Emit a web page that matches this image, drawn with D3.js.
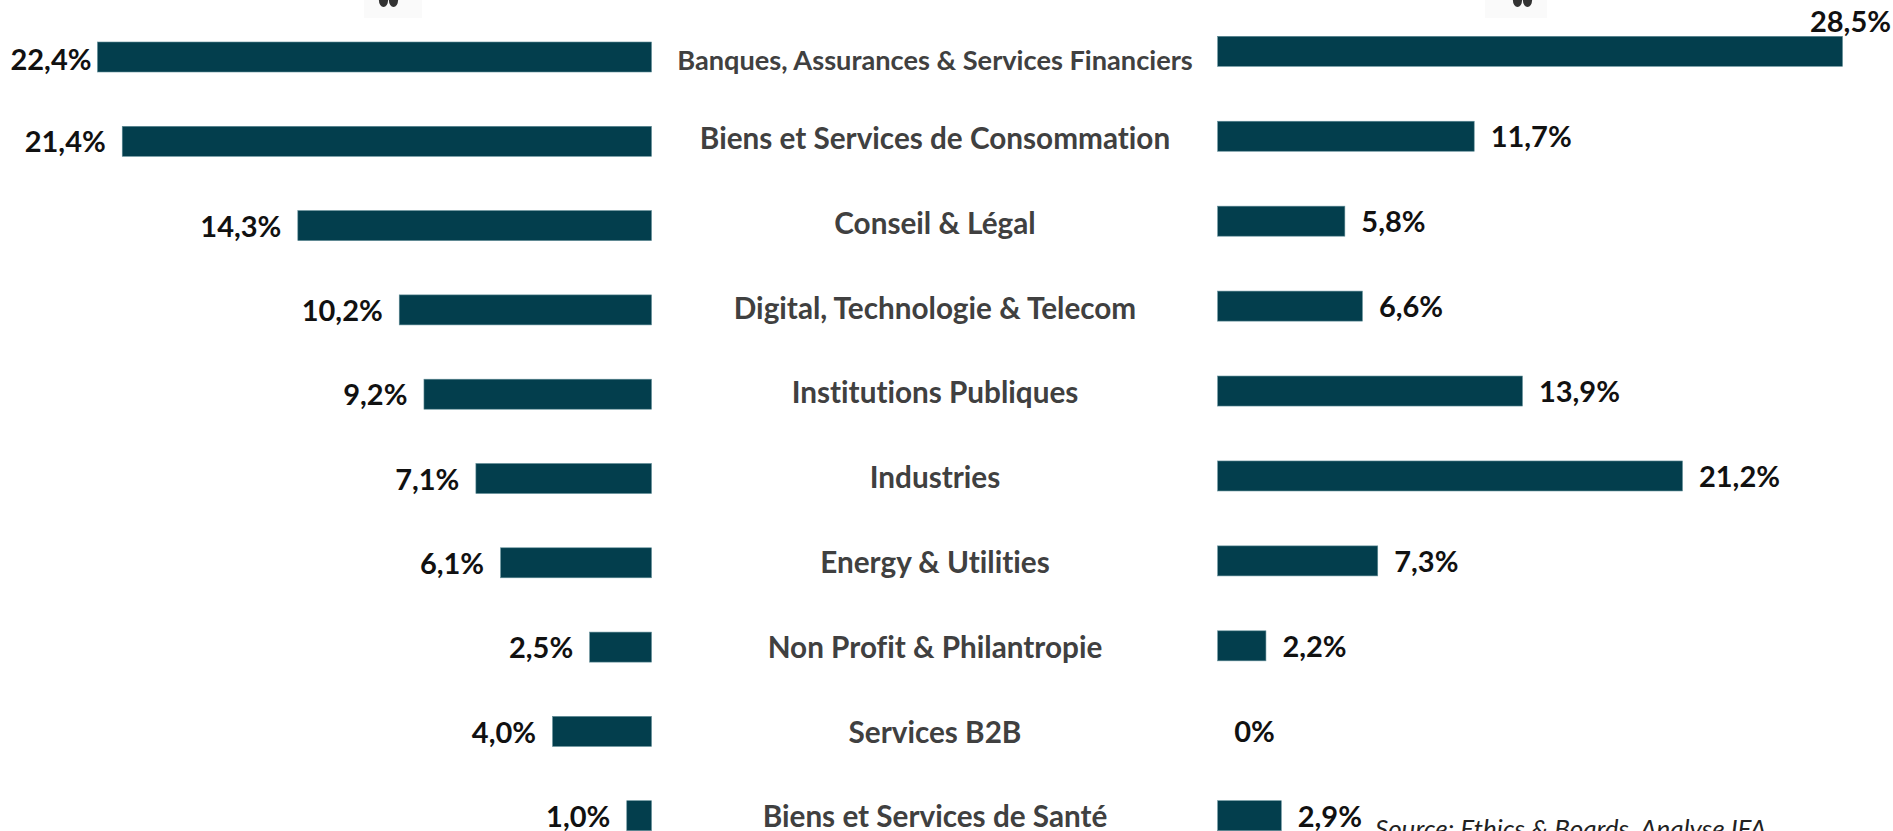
<!DOCTYPE html>
<html><head><meta charset="utf-8">
<script src="https://cdn.jsdelivr.net/npm/d3@7/dist/d3.min.js"></script>
<style>html,body{margin:0;padding:0;background:#fff;overflow:hidden}svg{display:block}text{font-family:Lato,"Open Sans",sans-serif;font-variant-ligatures:none}</style>
</head><body><svg id="c" width="1893" height="831"></svg>
<script>
const categories = ["Banques, Assurances & Services Financiers","Biens et Services de Consommation","Conseil & Légal","Digital, Technologie & Telecom","Institutions Publiques","Industries","Energy & Utilities","Non Profit & Philantropie","Services B2B","Biens et Services de Santé"];
const leftValues = [22.4,21.4,14.3,10.2,9.2,7.1,6.1,2.5,4.0,1.0];
const rightValues = [28.5,11.7,5.8,6.6,13.9,21.2,7.3,2.2,0,2.9];
const leftLabels = ["22,4%","21,4%","14,3%","10,2%","9,2%","7,1%","6,1%","2,5%","4,0%","1,0%"];
const rightLabels = ["28,5%","11,7%","5,8%","6,6%","13,9%","21,2%","7,3%","2,2%","0%","2,9%"];
const source = "Source: Ethics & Boards, Analyse IFA";

const svg = d3.select("#c");
const barH = 30, gap = 16.5;
const idx = categories.map((_, i) => i);
const yL = d3.scalePoint().domain(idx).range([42, 800.7]);
const yR = d3.scalePoint().domain(idx).range([36.3, 800.7]);
const yC = d3.scalePoint().domain(idx).range([53.8, 817]);
const xL = d3.scaleLinear().domain([0, 22.4]).range([651.5, 97.5]);
const xR = d3.scaleLinear().domain([0, 28.5]).range([1217.7, 1842.5]);
const fill = "#033e4d", edge = "#5f8c96";

// clipped icons at the top edge
[[364, 58, 383.5, 393.5], [1485, 62, 1517.5, 1527.5]].forEach(([x, w, a, b]) => {
  svg.append("rect").attr("x", x).attr("y", -1).attr("width", w).attr("height", 19).attr("fill", "#fafafa");
  [a, b].forEach(cx => svg.append("ellipse").attr("cx", cx).attr("cy", 0).attr("rx", 4.6).attr("ry", 7).attr("fill", "#333"));
});

svg.append("g").selectAll("rect").data(leftValues).join("rect")
  .attr("x", d => xL(d)).attr("y", (d, i) => yL(i)).attr("width", d => xL(0) - xL(d)).attr("height", barH)
  .attr("fill", fill).attr("stroke", edge).attr("stroke-width", 0.6);
svg.append("g").selectAll("rect").data(rightValues.filter(d => d > 0)).join("rect")
  .attr("x", xR(0)).attr("y", d => yR(rightValues.indexOf(d))).attr("width", d => xR(d) - xR(0)).attr("height", barH)
  .attr("fill", fill).attr("stroke", edge).attr("stroke-width", 0.6);

svg.append("g").selectAll("text").data(leftLabels).join("text")
  .attr("x", (d, i) => xL(leftValues[i]) - (i === 0 ? 6 : gap))
  .attr("y", (d, i) => yL(i) + barH / 2 + (i === 0 ? 3 : 1)).attr("dy", "0.35em")
  .attr("text-anchor", "end").attr("font-size", 29).attr("font-weight", 700).attr("fill", "#111").text(d => d);
svg.append("g").selectAll("text").data(rightLabels).join("text")
  .attr("x", (d, i) => i === 0 ? 1891 : xR(rightValues[i]) + gap)
  .attr("y", (d, i) => i === 0 ? 22 : yR(i) + barH / 2 + 1).attr("dy", "0.35em")
  .attr("text-anchor", (d, i) => i === 0 ? "end" : "start").attr("font-size", 29).attr("font-weight", 700).attr("fill", "#111").text(d => d);
svg.append("g").selectAll("text").data(categories).join("text")
  .attr("x", 935).attr("y", (d, i) => i === 0 ? yC(i) + 7 : yC(i)).attr("dy", "0.35em")
  .attr("text-anchor", "middle").attr("font-size", (d, i) => i === 0 ? 27.2 : 29.7).attr("font-weight", 700).attr("fill", "#404040").text(d => d);
svg.append("text").attr("x", 1375).attr("y", 838).attr("font-size", 26).attr("font-style", "italic").attr("fill", "#222").text(source);
</script></body></html>
